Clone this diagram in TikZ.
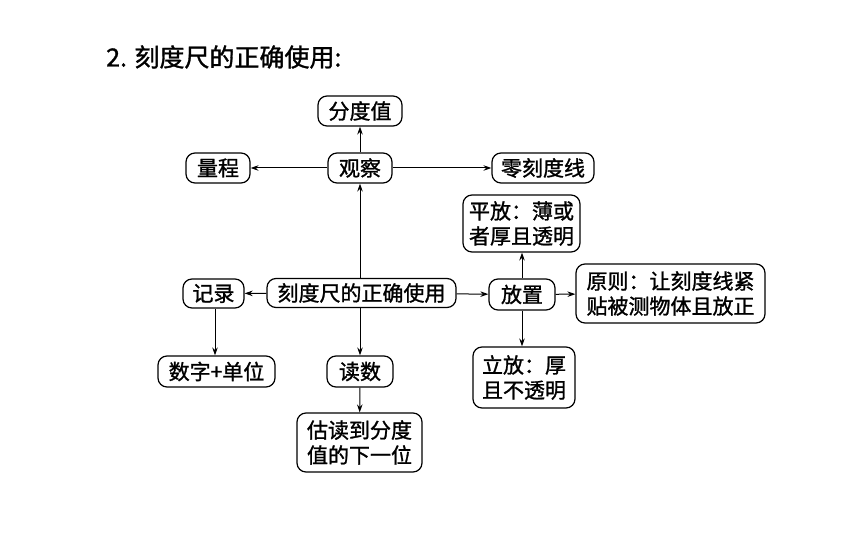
\documentclass[tikz,border=0pt]{standalone}
\usepackage{fontspec}
\setmainfont{Noto Sans CJK SC}[FakeBold=1.2]
\usetikzlibrary{arrows.meta}
\begin{document}
\begin{tikzpicture}[x=1pt,y=-1pt,
  box/.style={draw, line width=1.2pt, rounded corners=9pt, inner sep=0pt, align=center, font=\fontsize{21}{25}\selectfont},
  arr/.style={-{Stealth[length=8pt,width=5.5pt]}, line width=1pt}]
\useasboundingbox (0,0) rectangle (860,537);
\node[anchor=west, inner sep=0pt, font=\fontsize{25}{30}\selectfont] (title) at (106,57) {2. 刻度尺的正确使用:};
\node[box, minimum width=84, minimum height=30] (fdz) at (360,111) {分度值};
\node[box, minimum width=64, minimum height=30] (gc) at (360,168) {观察};
\node[box, minimum width=64, minimum height=30] (lc) at (218,168) {量程};
\node[box, minimum width=102, minimum height=30] (lkdx) at (543,168) {零刻度线};
\node[box, minimum width=117, minimum height=57] (pf) at (521.5,223.5) {平放：薄或\\者厚且透明};
\node[box, minimum width=66, minimum height=31] (fz) at (522,294.5) {放置};
\node[box, minimum width=189, minimum height=59] (yz) at (670.5,293.5) {原则：让刻度线紧\\贴被测物体且放正};
\node[box, minimum width=102, minimum height=61] (lf) at (524,377.5) {立放：厚\\且不透明};
\node[box, minimum width=189, minimum height=29] (main) at (361.5,293) {刻度尺的正确使用};
\node[box, minimum width=61, minimum height=29] (jl) at (213.5,293.5) {记录};
\node[box, minimum width=117, minimum height=31] (szdw) at (216.5,371.5) {数字+单位};
\node[box, minimum width=66, minimum height=31] (ds) at (360,371.5) {读数};
\node[box, minimum width=125, minimum height=59] (gd) at (359.5,442.5) {估读到分度\\值的下一位};
\draw[arr] (gc) -- (fdz);
\draw[arr] (gc) -- (lc);
\draw[arr] (gc) -- (lkdx);
\draw[arr] (main.north -| gc) -- (gc);
\draw[arr] (main) -- (jl);
\draw[arr] (main.south -| ds) -- (ds);
\draw[arr] (ds) -- (gd);
\draw[arr] (main) -- (fz);
\draw[arr] (fz) -- (pf.south -| fz);
\draw[arr] (fz) -- (yz);
\draw[arr] (fz) -- (lf.north -| fz);
\coordinate (jlb) at ([xshift=1.5pt]jl.south);
\draw[arr] (jlb) -- (jlb |- szdw.north);
\end{tikzpicture}
\end{document}
